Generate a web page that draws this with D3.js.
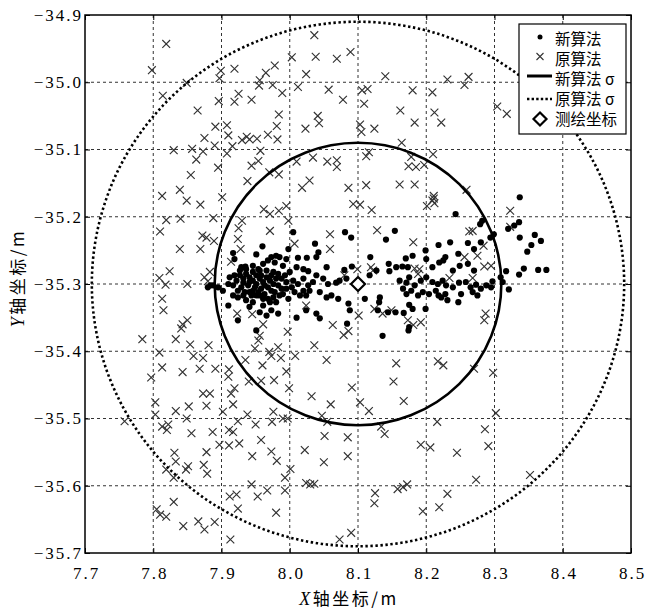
<!DOCTYPE html>
<html>
<head>
<meta charset="utf-8">
<script src="https://cdn.jsdelivr.net/npm/d3@7"></script>
<style>
  body { margin: 0; background: #fff; }
  svg { display: block; }
</style>
</head>
<body>
<svg id="chart" width="647" height="610"></svg>
<script>
// axis ticks
const xTicks = [7.7, 7.8, 7.9, 8.0, 8.1, 8.2, 8.3, 8.4, 8.5]
const yTicks = [-35.7, -35.6, -35.5, -35.4, -35.3, -35.2, -35.1, -35.0, -34.9]

// 测绘坐标 and the two sigma radii
const surveyPt = [8.1, -35.3]
const newSigma = 0.21
const oldSigma = 0.39

const legendNames = ['新算法', '原算法', '新算法 σ', '原算法 σ', '测绘坐标']

// 原算法 points (x, y)
const oldPts = [
  [7.819,-34.943],[7.798,-34.982],[8.036,-34.930],[8.003,-34.963],[8.038,-34.962],[8.069,-34.965],[8.089,-34.955],
  [8.024,-34.988],[8.012,-35.007],[8.057,-35.011],[8.078,-35.026],[7.978,-34.975],[7.965,-34.986],[7.956,-34.997],
  [7.955,-35.005],[7.975,-35.004],[7.989,-35.016],[7.919,-34.980],[7.899,-34.983],[7.897,-34.994],[7.849,-35.001],
  [7.814,-35.020],[7.865,-35.042],[7.896,-35.028],[7.919,-35.029],[7.925,-35.017],[7.944,-35.026],[7.984,-35.048],
  [7.981,-35.065],[7.982,-35.085],[7.968,-35.078],[8.023,-35.069],[8.041,-35.050],[8.043,-35.061],[7.891,-35.066],
  [7.908,-35.064],[7.910,-35.079],[7.875,-35.083],[7.890,-35.094],[7.916,-35.095],[7.930,-35.086],[7.937,-35.081],
  [7.941,-35.085],[7.952,-35.084],[7.830,-35.101],[7.857,-35.099],[7.873,-35.103],[7.863,-35.115],[7.908,-35.106],
  [7.957,-35.102],[7.954,-35.117],[7.944,-35.124],[7.895,-35.127],[7.855,-35.138],[7.938,-35.147],[7.839,-35.160],
  [7.813,-35.169],[8.010,-35.118],[8.034,-35.112],[8.055,-35.118],[8.069,-35.116],[8.069,-35.126],[8.029,-35.146],
  [8.018,-35.157],[8.086,-35.157],[7.984,-35.137],[7.970,-35.134],[8.103,-35.063],
  [8.140,-34.991],[8.231,-34.996],[8.262,-34.992],[8.256,-35.004],[8.106,-35.012],[8.114,-35.010],[8.109,-35.032],
  [8.180,-35.012],[8.209,-35.015],[8.162,-35.042],[8.212,-35.045],[8.222,-35.060],[8.183,-35.060],[8.124,-35.069],
  [8.105,-35.074],[8.304,-35.036],[8.318,-35.047],[8.164,-35.090],[8.116,-35.104],[8.112,-35.110],[8.178,-35.111],
  [8.174,-35.125],[8.185,-35.126],[8.197,-35.123],[8.210,-35.107],[8.112,-35.153],[8.161,-35.152],[8.183,-35.152],
  [8.259,-35.160],[8.211,-35.169],
  [7.849,-35.176],[7.869,-35.182],[7.901,-35.171],[7.819,-35.205],[7.840,-35.203],[7.888,-35.202],[7.810,-35.222],
  [7.872,-35.228],[7.878,-35.231],[7.889,-35.236],[7.839,-35.248],[7.869,-35.248],[7.930,-35.206],[7.925,-35.217],
  [7.924,-35.233],[7.928,-35.248],[7.962,-35.189],[7.971,-35.196],[7.984,-35.191],[7.995,-35.184],[7.998,-35.206],
  [7.971,-35.221],[8.007,-35.240],[8.059,-35.226],[8.059,-35.248],[8.093,-35.181],[8.099,-35.278],[7.824,-35.281],
  [7.809,-35.291],[7.818,-35.301],[7.850,-35.300],[7.813,-35.322],[7.815,-35.339],[7.875,-35.290],[7.880,-35.296],
  [7.883,-35.282],[7.914,-35.267],[7.784,-35.382],[7.833,-35.382],[7.841,-35.366],[7.843,-35.360],[7.850,-35.354],
  [7.854,-35.390],[7.881,-35.391],[7.809,-35.402],[7.859,-35.407],[7.873,-35.410],[7.813,-35.424],[7.843,-35.431],
  [7.868,-35.426],[7.891,-35.426],[7.911,-35.427],[7.923,-35.344],[7.945,-35.345],[7.961,-35.360],[7.956,-35.377],
  [7.954,-35.384],[7.935,-35.413],[7.960,-35.421],[7.949,-35.396],[7.970,-35.401],[7.983,-35.394],[7.973,-35.407],
  [7.987,-35.410],[8.008,-35.407],[7.997,-35.371],[7.995,-35.430],[8.024,-35.332],[8.036,-35.391],[8.054,-35.413],
  [8.063,-35.361],[8.079,-35.376],[8.086,-35.370],[8.080,-35.287],
  [8.103,-35.182],[8.120,-35.190],[8.201,-35.184],[8.209,-35.176],[8.212,-35.180],[8.211,-35.173],[8.128,-35.220],
  [8.181,-35.238],[8.323,-35.191],[8.323,-35.215],[8.263,-35.222],[8.268,-35.221],[8.284,-35.243],[8.275,-35.258],
  [8.256,-35.260],[8.285,-35.274],[8.295,-35.273],[8.119,-35.275],[8.122,-35.280],[8.183,-35.277],[8.190,-35.278],
  [8.188,-35.285],[8.234,-35.291],[8.268,-35.291],[8.124,-35.337],[8.136,-35.344],[8.149,-35.339],[8.101,-35.347],
  [8.173,-35.354],[8.181,-35.361],[8.192,-35.357],[8.287,-35.344],[8.285,-35.354],[8.156,-35.418],[8.217,-35.415],
  [8.225,-35.421],[8.270,-35.426],[8.298,-35.432],
  [7.797,-35.439],[7.803,-35.476],[7.803,-35.494],[7.833,-35.489],[7.852,-35.482],[7.873,-35.463],[7.883,-35.463],
  [7.878,-35.481],[7.849,-35.500],[7.813,-35.512],[7.822,-35.509],[7.820,-35.517],[7.856,-35.522],[7.887,-35.520],
  [7.758,-35.504],[7.902,-35.490],[7.914,-35.463],[7.919,-35.455],[7.917,-35.479],[7.910,-35.438],[7.940,-35.445],
  [7.958,-35.444],[7.977,-35.443],[7.999,-35.455],[7.938,-35.494],[7.950,-35.509],[7.924,-35.504],[7.911,-35.517],
  [7.917,-35.520],[7.897,-35.539],[7.911,-35.540],[7.926,-35.537],[7.958,-35.532],[7.976,-35.490],[7.974,-35.505],
  [7.990,-35.500],[7.997,-35.500],[8.032,-35.467],[8.060,-35.479],[8.091,-35.454],[8.047,-35.496],[8.055,-35.505],
  [8.051,-35.526],[8.085,-35.528],[8.022,-35.547],[8.050,-35.565],[8.085,-35.556],[7.831,-35.551],[7.833,-35.564],
  [7.878,-35.550],[7.874,-35.569],[7.879,-35.582],[7.851,-35.571],[7.848,-35.576],[7.819,-35.576],[7.830,-35.588],
  [7.945,-35.556],[7.973,-35.549],[7.981,-35.563],[8.001,-35.575],[7.993,-35.588],[7.993,-35.607],[7.967,-35.607],
  [7.953,-35.616],[7.944,-35.598],[8.024,-35.596],[8.030,-35.598],[8.036,-35.597],[7.912,-35.616],[7.922,-35.613],
  [7.924,-35.634],[7.980,-35.640],[7.830,-35.624],[7.805,-35.635],[7.810,-35.643],[7.819,-35.646],[7.844,-35.660],
  [7.866,-35.653],[7.875,-35.665],[7.890,-35.654],[7.913,-35.680],[8.073,-35.680],[8.090,-35.670],
  [8.152,-35.445],[8.167,-35.474],[8.103,-35.476],[8.116,-35.489],[8.134,-35.512],[8.139,-35.523],[8.216,-35.505],
  [8.286,-35.516],[8.302,-35.492],[8.291,-35.541],[8.192,-35.539],[8.206,-35.543],[8.245,-35.551],[8.273,-35.591],
  [8.352,-35.584],[8.125,-35.611],[8.124,-35.626],[8.158,-35.605],[8.166,-35.602],[8.172,-35.598],[8.231,-35.612],
  [8.195,-35.638],[8.219,-35.632]
]

// 新算法 points (x, y)
const newPts = [
  [8.005,-35.223],[8.037,-35.240],[8.081,-35.223],[8.090,-35.231],[7.998,-35.248],[8.012,-35.261],[8.025,-35.261],
  [8.039,-35.260],[8.042,-35.253],[8.054,-35.275],[8.080,-35.279],[8.091,-35.274],[7.960,-35.244],[7.951,-35.256],
  [7.973,-35.260],[7.980,-35.258],[7.917,-35.254],[7.919,-35.263],[7.929,-35.275],[7.935,-35.274],[7.946,-35.273],
  [7.954,-35.278],[7.961,-35.270],[7.968,-35.265],[7.978,-35.268],[7.985,-35.260],[7.990,-35.273],[7.995,-35.263],
  [8.000,-35.282],[8.010,-35.275],[8.020,-35.278],[8.027,-35.281],[8.039,-35.287],[8.049,-35.292],[8.056,-35.300],
  [8.068,-35.298],[8.073,-35.295],[8.083,-35.292],[7.910,-35.332],[7.924,-35.354],[7.941,-35.334],[7.951,-35.369],
  [7.956,-35.342],[7.966,-35.347],[7.973,-35.339],[7.983,-35.344],[8.010,-35.350],[8.024,-35.339],[8.039,-35.344],
  [8.044,-35.351],[8.086,-35.329],[8.088,-35.339],[8.084,-35.359],[8.071,-35.322],[8.061,-35.317],[8.054,-35.320],
  [8.044,-35.312],[8.024,-35.317],[8.015,-35.317],[8.003,-35.305],[7.998,-35.322],[7.990,-35.315],[7.980,-35.327],
  [7.971,-35.327],[7.961,-35.332],[7.951,-35.317],[7.941,-35.312],[7.932,-35.317],[7.924,-35.310],[7.917,-35.302],
  [7.910,-35.300],[7.902,-35.310],[7.895,-35.305],[7.888,-35.302],[7.884,-35.302],[7.880,-35.305],
  [7.927,-35.287],[7.932,-35.292],[7.936,-35.285],[7.941,-35.290],[7.946,-35.295],[7.951,-35.287],[7.956,-35.292],
  [7.961,-35.297],[7.966,-35.290],[7.971,-35.295],[7.976,-35.300],[7.968,-35.305],[7.958,-35.307],[7.949,-35.305],
  [7.939,-35.302],[7.929,-35.305],[7.922,-35.295],[7.934,-35.312],[7.944,-35.317],[7.954,-35.312],[7.963,-35.315],
  [7.973,-35.310],[7.983,-35.302],[7.988,-35.292],[7.995,-35.297],[7.993,-35.287],[7.983,-35.285],[7.976,-35.282],
  [7.966,-35.280],[7.956,-35.280],[7.946,-35.282],[7.936,-35.278],[7.927,-35.280],[7.919,-35.287],[7.924,-35.320],
  [7.936,-35.324],[7.946,-35.327],[7.961,-35.322],[7.976,-35.320],[7.985,-35.317],[7.995,-35.307],[8.005,-35.295],
  [8.012,-35.300],[8.020,-35.292],[8.027,-35.302],[8.034,-35.297],[8.029,-35.310],[8.020,-35.310],[8.007,-35.312],
  [7.917,-35.317],[7.912,-35.290],[7.941,-35.297],[7.951,-35.300],[7.963,-35.302],[7.932,-35.298],[7.956,-35.317],
  [7.968,-35.322],[7.978,-35.312],[7.988,-35.307],[7.946,-35.310],[7.958,-35.287],[7.973,-35.287],[7.980,-35.292],
  [8.243,-35.196],[8.282,-35.206],[8.279,-35.211],[8.320,-35.218],[8.329,-35.213],[8.336,-35.208],[8.337,-35.231],
  [8.359,-35.227],[8.368,-35.236],[8.354,-35.242],[8.348,-35.252],[8.343,-35.277],[8.336,-35.286],[8.364,-35.279],
  [8.376,-35.279],[8.317,-35.281],[8.309,-35.290],[8.321,-35.308],[8.312,-35.297],[8.154,-35.221],[8.141,-35.234],
  [8.218,-35.242],[8.235,-35.238],[8.247,-35.255],[8.261,-35.239],[8.270,-35.248],[8.280,-35.238],[8.294,-35.231],
  [8.299,-35.226],[8.199,-35.250],[8.200,-35.263],[8.180,-35.258],[8.170,-35.262],[8.118,-35.260],[8.145,-35.270],
  [8.156,-35.275],[8.165,-35.274],[8.173,-35.275],[8.209,-35.275],[8.219,-35.268],[8.228,-35.260],[8.225,-35.265],
  [8.239,-35.280],[8.249,-35.273],[8.261,-35.270],[8.270,-35.280],[8.146,-35.281],[8.117,-35.287],[8.127,-35.280],
  [8.161,-35.295],[8.171,-35.298],[8.175,-35.290],[8.183,-35.302],[8.192,-35.295],[8.200,-35.290],[8.209,-35.297],
  [8.217,-35.300],[8.224,-35.295],[8.229,-35.302],[8.239,-35.305],[8.248,-35.298],[8.258,-35.297],[8.265,-35.305],
  [8.273,-35.301],[8.280,-35.307],[8.288,-35.302],[8.297,-35.296],[8.295,-35.305],[8.166,-35.307],[8.171,-35.315],
  [8.178,-35.310],[8.188,-35.317],[8.195,-35.312],[8.204,-35.315],[8.214,-35.310],[8.218,-35.317],[8.228,-35.315],
  [8.231,-35.324],[8.222,-35.320],[8.251,-35.315],[8.268,-35.312],[8.275,-35.317],[8.247,-35.327],[8.132,-35.320],
  [8.131,-35.327],[8.110,-35.322],[8.129,-35.339],[8.144,-35.342],[8.155,-35.342],[8.167,-35.343],[8.175,-35.331],
  [8.180,-35.337],[8.199,-35.337],[8.174,-35.369],[8.175,-35.364],[8.136,-35.377],[8.337,-35.171]
]

const svg = d3.select('#chart')
const pLeft = 85, pRight = 631, pTop = 15, pBottom = 553

const x = d3.scaleLinear().domain([7.7, 8.5]).range([pLeft, pRight])
const y = d3.scaleLinear().domain([-35.7, -34.9]).range([pBottom, pTop])
const fmt = v => d3.format('.1f')(v).replace('-', '\u2212')

// dashed grid
const grid = svg.append('g').attr('stroke', '#333').attr('stroke-width', 1).attr('stroke-dasharray', '3,3')
grid.selectAll('.gx').data(xTicks.slice(1, -1)).enter().append('line')
  .attr('x1', d => x(d)).attr('x2', d => x(d)).attr('y1', pTop).attr('y2', pBottom)
grid.selectAll('.gy').data(yTicks.slice(1, -1)).enter().append('line')
  .attr('y1', d => y(d)).attr('y2', d => y(d)).attr('x1', pLeft).attr('x2', pRight)

// 原算法 crosses
const cs = 3.9
svg.append('g').attr('stroke', '#333').attr('stroke-width', 1.15)
  .selectAll('path').data(oldPts).enter().append('path')
  .attr('d', d => {
    const px = x(d[0]), py = y(d[1])
    return `M${px - cs},${py - cs}L${px + cs},${py + cs}M${px - cs},${py + cs}L${px + cs},${py - cs}`
  })

// 新算法 dots
svg.append('g').attr('fill', '#000')
  .selectAll('circle').data(newPts).enter().append('circle')
  .attr('cx', d => x(d[0])).attr('cy', d => y(d[1])).attr('r', 3.1)

// sigma circles
svg.append('ellipse')
  .attr('cx', x(surveyPt[0])).attr('cy', y(surveyPt[1]))
  .attr('rx', x(surveyPt[0] + newSigma) - x(surveyPt[0]))
  .attr('ry', y(surveyPt[1]) - y(surveyPt[1] + newSigma))
  .attr('fill', 'none').attr('stroke', '#000').attr('stroke-width', 2.6)
svg.append('ellipse')
  .attr('cx', x(surveyPt[0])).attr('cy', y(surveyPt[1]))
  .attr('rx', x(surveyPt[0] + oldSigma) - x(surveyPt[0]))
  .attr('ry', y(surveyPt[1]) - y(surveyPt[1] + oldSigma))
  .attr('fill', 'none').attr('stroke', '#000').attr('stroke-width', 2.6)
  .attr('stroke-dasharray', '2.4,2.6')

// 测绘坐标 diamond
const diamond = (px, py, s) => `M${px},${py - s}L${px + s},${py}L${px},${py + s}L${px - s},${py}Z`
svg.append('path')
  .attr('d', diamond(x(surveyPt[0]), y(surveyPt[1]), 7))
  .attr('fill', '#fff').attr('stroke', '#000').attr('stroke-width', 2.2)

// axes, ticks pointing inward
const tickFont = g => g.selectAll('text')
  .attr('font-family', '"Liberation Serif", "DejaVu Serif", serif')
  .attr('font-size', 17).attr('letter-spacing', 2).attr('fill', '#000')

svg.append('g').attr('transform', `translate(0,${pBottom})`)
  .call(d3.axisBottom(x).tickValues(xTicks).tickFormat(fmt).tickSizeInner(-5).tickSizeOuter(0).tickPadding(14))
  .call(g => g.select('.domain').remove())
  .call(tickFont)
  .call(g => g.selectAll('text').attr('dx', 1))
svg.append('g').attr('transform', `translate(${pLeft},0)`)
  .call(d3.axisLeft(y).tickValues(yTicks).tickFormat(fmt).tickSizeInner(-5).tickSizeOuter(0).tickPadding(2))
  .call(g => g.select('.domain').remove())
  .call(tickFont)
svg.append('g').attr('transform', `translate(0,${pTop})`)
  .call(d3.axisTop(x).tickValues(xTicks).tickFormat('').tickSizeInner(-5).tickSizeOuter(0))
  .call(g => g.select('.domain').remove())
svg.append('g').attr('transform', `translate(${pRight},0)`)
  .call(d3.axisRight(y).tickValues(yTicks).tickFormat('').tickSizeInner(-5).tickSizeOuter(0))
  .call(g => g.select('.domain').remove())

svg.append('rect')
  .attr('x', pLeft).attr('y', pTop).attr('width', pRight - pLeft).attr('height', pBottom - pTop)
  .attr('fill', 'none').attr('stroke', '#000').attr('stroke-width', 1.5)

// axis titles
const cjk = '"Noto Sans CJK SC", "Noto Sans", sans-serif'
const xt = svg.append('text').attr('x', 349).attr('y', 605)
  .attr('text-anchor', 'middle').attr('font-family', cjk).attr('font-size', 17).attr('letter-spacing', 2.5)
xt.append('tspan').attr('font-family', '"Liberation Serif", serif').attr('font-style', 'italic').attr('font-size', 18).text('X')
xt.append('tspan').text('轴坐标/m')

const yt = svg.append('text').attr('transform', `translate(24,278) rotate(-90)`)
  .attr('text-anchor', 'middle').attr('font-family', cjk).attr('font-size', 17).attr('letter-spacing', 2.5)
yt.append('tspan').attr('font-family', '"Liberation Serif", serif').attr('font-style', 'italic').attr('font-size', 18).text('Y')
yt.append('tspan').text('轴坐标/m')

// legend
const lg = svg.append('g')
lg.append('rect').attr('x', 519).attr('y', 24).attr('width', 107).attr('height', 110)
  .attr('fill', '#fff').attr('stroke', '#000').attr('stroke-width', 1.2)
const rowY = [39, 59, 79, 99, 119]
const mx = 540
lg.append('circle').attr('cx', mx).attr('cy', rowY[0] - 2).attr('r', 2.5)
lg.append('path').attr('stroke', '#333').attr('stroke-width', 1.1)
  .attr('d', `M${mx - 3.5},${rowY[1] - 6}L${mx + 3.5},${rowY[1] + 1}M${mx - 3.5},${rowY[1] + 1}L${mx + 3.5},${rowY[1] - 6}`)
lg.append('line').attr('x1', 527).attr('x2', 552).attr('y1', rowY[2] - 3).attr('y2', rowY[2] - 3)
  .attr('stroke', '#000').attr('stroke-width', 3)
lg.append('line').attr('x1', 527).attr('x2', 552).attr('y1', rowY[3]).attr('y2', rowY[3])
  .attr('stroke', '#000').attr('stroke-width', 2.6).attr('stroke-dasharray', '2.4,2.2')
lg.append('path').attr('d', diamond(mx, rowY[4], 6.5))
  .attr('fill', '#fff').attr('stroke', '#000').attr('stroke-width', 2.2)

lg.selectAll('text').data(legendNames).enter().append('text')
  .attr('x', 555).attr('y', (d, i) => rowY[i]).attr('dy', '0.36em')
  .attr('font-family', cjk).attr('font-size', 15.5).attr('fill', '#000')
  .text(d => d)
</script>
</body>
</html>
